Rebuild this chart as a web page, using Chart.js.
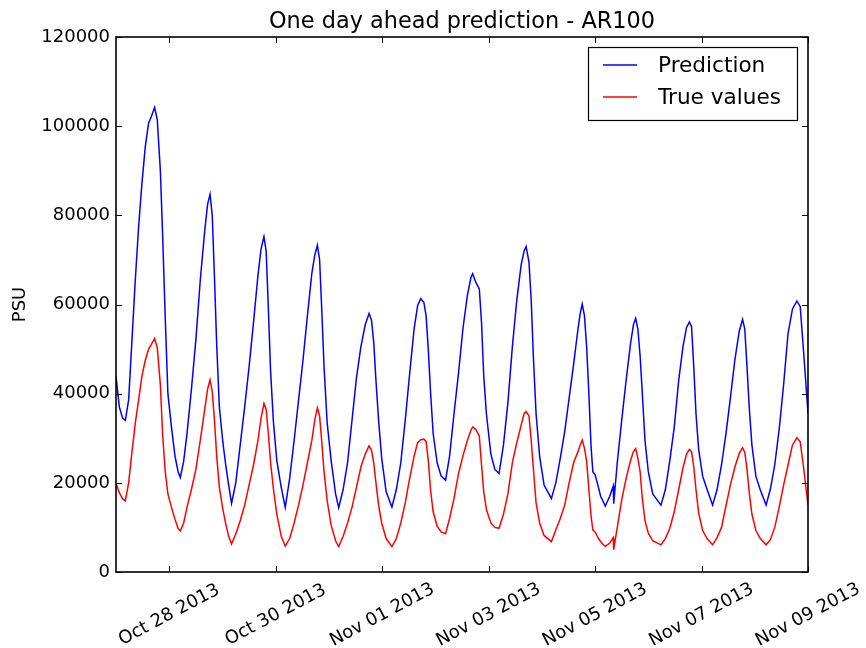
<!DOCTYPE html>
<html>
<head>
<meta charset="utf-8">
<script src="https://cdn.jsdelivr.net/npm/chart.js@4/dist/chart.umd.min.js"></script>
<style>
  html, body { margin: 0; padding: 0; background: #fff; }
  canvas { display: block; }
</style>
</head>
<body>
<canvas id="chart" width="866" height="648"></canvas>
<script>
// Hours elapsed since 2013-10-27 00:00
const hours = [
  0,1.5,3,4.2,5.7,7.2,8.7,10.2,11.7,13.2,14.7,15.9,17.4,18.6,20,21,22.2,23.4,25,26.6,28,29,
  30.5,32,34,36,38,40,41.3,42.4,43.4,44.4,45.4,46.6,48.2,49.6,50.8,52.1,
  54,56,58,60,62,64,65.4,66.7,67.7,68.7,69.7,71,72.5,74.5,76.3,
  78.3,80.3,82.3,84.3,86.3,88.3,89.6,90.8,91.8,92.8,93.8,95.2,97,99,100.4,
  102.4,104.4,106.4,108.4,110.4,112.4,114.1,115.2,116.2,117.2,118.4,119.8,121.8,124.4,
  126.4,128.4,130.4,132.4,134.4,136,137.4,138.8,139.8,140.8,141.8,143,144.8,146.6,148.6,
  150.4,152.4,154.4,156.4,158.4,160,160.8,162.2,163.8,164.8,165.8,167,169,170.8,172.7,
  174.7,176.7,178.7,180.7,182.7,184,184.9,186.2,187.2,188.2,189.4,191,193,196.3,
  198.3,200.3,202.3,204.3,206.3,208.3,209.3,210.2,211.2,212.2,213.2,214.2,215,216,217,218.5,
  220.6,222.6,224.2,224.4,226,228,230,232,233.3,234.3,235.3,236.3,237.3,238.5,240,242,245.7,
  247.7,249.7,251.7,253.7,255.7,257.2,258.5,259.5,260.5,261.5,262.7,264.5,266.5,269,
  271,273,275,277,279,281,282.5,283.5,284.5,285.5,286.7,288.5,290.5,293.1,
  295,297,299,301,303,305,307,308.5,310,312
];

const prediction = [
  44000,37000,34500,34000,38600,52000,65500,77500,87200,95400,100700,102100,104200,101500,90000,76000,57000,40000,32500,26000,22500,21200,
  24800,31000,41000,52000,65500,76500,82500,84700,80000,66000,51000,37000,29000,23500,19500,15400,
  20000,28500,37000,46000,56000,66500,72500,75200,72000,59000,45000,33500,25000,19000,14500,
  21000,29500,38500,47500,57500,67000,71000,73300,70000,58500,46000,33500,25000,17500,14400,
  18500,24500,34000,43500,50500,55500,58000,56500,51500,43000,34000,25500,18000,14600,
  18500,24500,34000,44500,54500,59800,61300,60500,57500,50000,40500,31000,24500,21500,20600,
  26000,35500,44500,54500,62000,66000,66900,65000,63500,56000,44000,35500,26500,23000,22100,
  28500,38000,50500,61000,69000,72000,73000,69500,61000,48000,35500,26000,19500,16500,
  20000,25500,31500,39000,46500,54500,58000,60100,57500,50500,40000,28000,22500,21800,20000,17000,
  14800,17000,19300,15300,24500,34000,43000,51300,55500,56900,54500,48500,40000,29500,22500,17500,15000,
  18500,25000,32500,43000,50800,54800,56100,55000,46000,35500,27500,21500,18500,15000,
  18500,24000,31000,39000,47500,54000,56700,54500,46000,37000,28500,21500,18400,15000,
  18500,24000,32000,42000,53500,59000,60800,59500,49500,35600
];

const trueValues = [
  19900,17800,16400,16000,20000,27000,33400,38600,44000,47500,50000,51000,52400,50300,42000,31000,22500,17500,14500,11800,9800,9200,
  11000,14500,18500,23000,29500,36500,41000,43100,40500,34000,26000,19000,14000,10500,8000,6300,
  8500,11500,15000,19500,24000,29500,34500,37800,36500,31000,24500,18500,13000,8000,5800,
  7500,11000,15000,19500,24500,29500,34000,36800,35000,29000,22500,16000,10500,7000,5700,
  8000,11000,14500,19000,23500,26500,28300,27300,24500,20000,15000,11000,7500,5700,
  7500,11000,15500,21000,26000,29000,29700,29800,29300,25000,18500,13500,10300,9000,8600,
  12000,16500,22000,26000,29500,31800,32500,32000,30500,24000,18000,14000,11000,10000,9800,
  13000,17500,24500,29000,33000,35500,36000,35000,29500,23000,15500,11000,8200,6800,
  9500,12000,15000,20000,24500,27000,28500,29600,27800,24800,18500,12500,9400,9000,8000,6800,
  5700,6500,7700,5000,10000,16200,21000,25000,27000,27700,25500,22500,16500,11500,8700,7000,6100,
  7500,9800,13500,18500,23500,26400,27500,27000,23500,18500,13200,9300,7500,6100,
  7700,10000,14800,19500,23500,26600,27900,26800,23000,17800,13000,9300,7500,6100,
  7200,10000,14500,19500,24000,28500,30100,29200,23500,15000
];

const tickHours = [24, 72, 120, 168, 216, 264, 312];
const tickLabels = ['Oct 28 2013', 'Oct 30 2013', 'Nov 01 2013', 'Nov 03 2013',
                    'Nov 05 2013', 'Nov 07 2013', 'Nov 09 2013'];
const yMin = 0, yMax = 120000, yStep = 20000;

const titleText = 'One day ahead prediction - AR100';
const yAxisTitle = 'PSU';

const FONT = '"DejaVu Sans", "Bitstream Vera Sans", sans-serif';
Chart.defaults.font.family = FONT;
Chart.defaults.color = '#000';

const toPoints = vals => hours.map((h, i) => ({ x: h, y: vals[i] }));

// Axes frame, inward ticks, rotated date labels, title and legend box
const decorations = {
  id: 'decorations',
  afterDraw(chart) {
    const { ctx, chartArea: a, scales: { x, y } } = chart;
    ctx.save();

    // tick marks pointing into the plot on all four sides
    ctx.strokeStyle = '#000';
    ctx.lineWidth = 1;
    ctx.beginPath();
    tickHours.forEach(h => {
      const px = Math.round(x.getPixelForValue(h)) + 0.5;
      ctx.moveTo(px, a.bottom); ctx.lineTo(px, a.bottom - 6);
      ctx.moveTo(px, a.top); ctx.lineTo(px, a.top + 6);
    });
    y.ticks.forEach(t => {
      const py = Math.round(y.getPixelForValue(t.value)) + 0.5;
      ctx.moveTo(a.left, py); ctx.lineTo(a.left + 6, py);
      ctx.moveTo(a.right, py); ctx.lineTo(a.right - 6, py);
    });
    ctx.stroke();

    // plot frame
    ctx.lineWidth = 1.6;
    ctx.strokeRect(a.left, a.top, a.right - a.left, a.bottom - a.top);

    // rotated date labels
    ctx.fillStyle = '#000';
    ctx.font = '18px ' + FONT;
    ctx.textAlign = 'center';
    ctx.textBaseline = 'middle';
    tickHours.forEach((h, i) => {
      const px = x.getPixelForValue(h);
      ctx.save();
      ctx.translate(px, a.bottom + 43);
      ctx.rotate(-28 * Math.PI / 180);
      ctx.fillText(tickLabels[i], 0, 0);
      ctx.restore();
    });

    // y axis title
    ctx.save();
    ctx.translate(20, (a.top + a.bottom) / 2);
    ctx.rotate(-Math.PI / 2);
    ctx.fillText(yAxisTitle, 0, 0);
    ctx.restore();

    // chart title
    ctx.font = '22.4px ' + FONT;
    ctx.textBaseline = 'alphabetic';
    ctx.fillText(titleText, (a.left + a.right) / 2, 28);

    // legend
    const bx = a.right - 220, by = a.top + 10, bw = 209, bh = 73;
    ctx.fillStyle = '#fff';
    ctx.fillRect(bx, by, bw, bh);
    ctx.lineWidth = 1.2;
    ctx.strokeStyle = '#000';
    ctx.strokeRect(bx + 0.5, by + 0.5, bw, bh);
    ctx.font = '21.6px ' + FONT;
    ctx.textAlign = 'left';
    ctx.textBaseline = 'middle';
    chart.data.datasets.forEach((ds, i) => {
      const ly = by + 18 + i * 32;
      ctx.strokeStyle = ds.borderColor;
      ctx.lineWidth = 1.5;
      ctx.beginPath();
      ctx.moveTo(bx + 15, ly); ctx.lineTo(bx + 49, ly);
      ctx.stroke();
      ctx.fillStyle = '#000';
      ctx.fillText(ds.label, bx + 70, ly + 1);
    });

    ctx.restore();
  }
};

new Chart(document.getElementById('chart'), {
  type: 'line',
  data: {
    datasets: [
      { label: 'Prediction', data: toPoints(prediction), borderColor: '#0000ff',
        borderWidth: 1.5, pointRadius: 0, fill: false, tension: 0 },
      { label: 'True values', data: toPoints(trueValues), borderColor: '#ff0000',
        borderWidth: 1.5, pointRadius: 0, fill: false, tension: 0 }
    ]
  },
  options: {
    responsive: false,
    animation: false,
    devicePixelRatio: 1,
    layout: { padding: { left: 0, right: 58, top: 37, bottom: 0 } },
    plugins: {
      legend: { display: false },
      title: { display: false },
      tooltip: { enabled: false }
    },
    scales: {
      x: {
        type: 'linear',
        min: 0,
        max: 312,
        grid: { display: false, drawTicks: false },
        border: { display: false },
        ticks: { display: false },
        afterBuildTicks: s => { s.ticks = tickHours.map(v => ({ value: v })); },
        afterFit: s => { s.height = 76; }
      },
      y: {
        min: yMin,
        max: yMax,
        grid: { display: false, drawTicks: false },
        border: { display: false },
        ticks: { stepSize: yStep, padding: 6, color: '#000',
                 font: { size: 18, family: FONT },
                 callback: v => String(v) },
        afterFit: s => { s.width = 116; }
      }
    }
  },
  plugins: [decorations]
});
</script>
</body>
</html>
